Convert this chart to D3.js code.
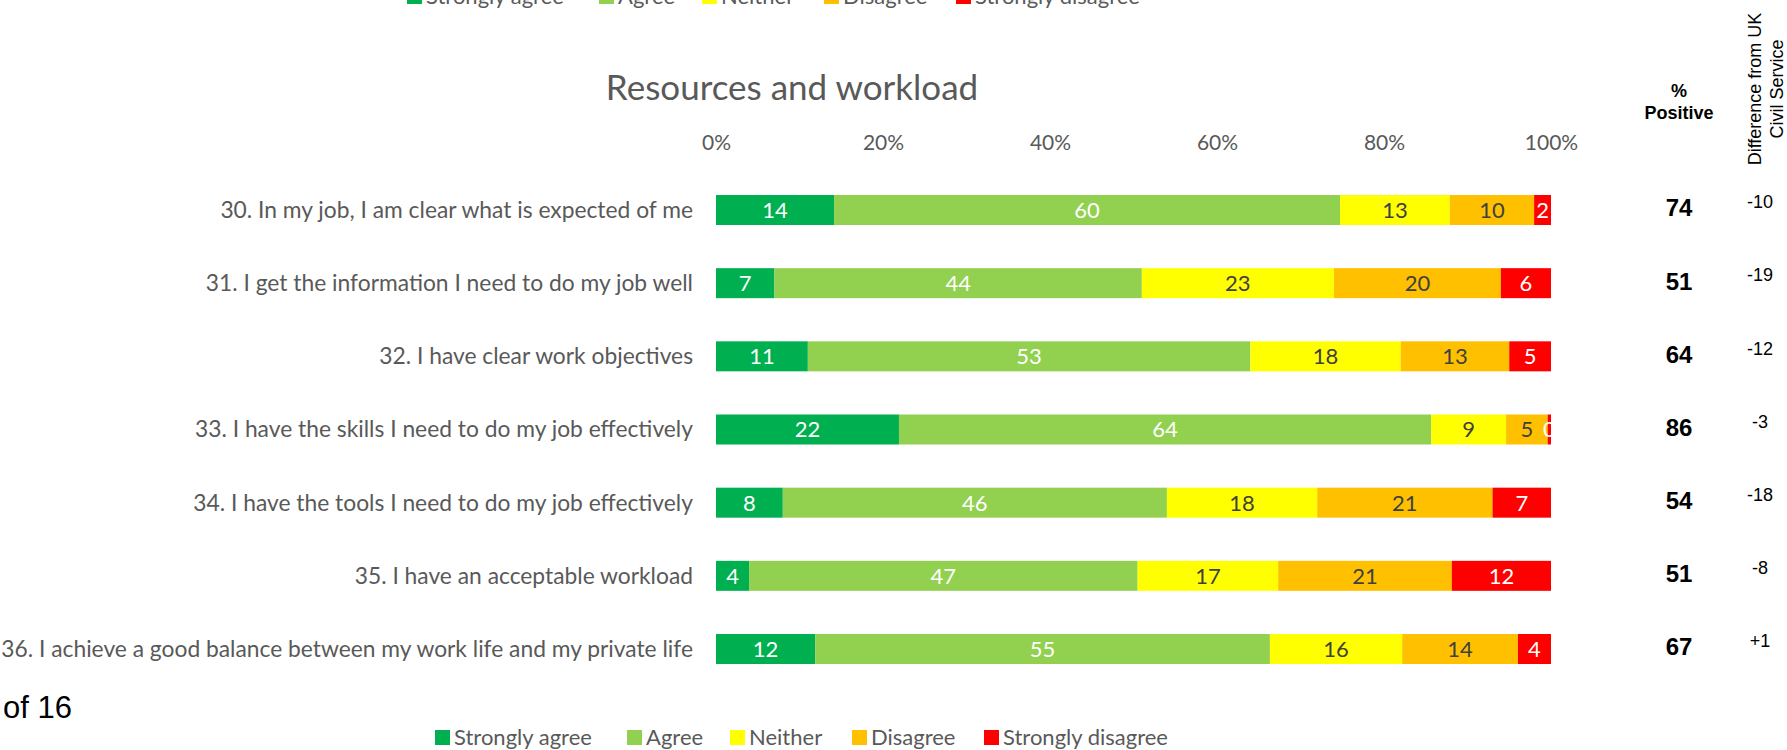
<!DOCTYPE html>
<html>
<head>
<meta charset="utf-8">
<script src="https://cdnjs.cloudflare.com/ajax/libs/d3/7.8.5/d3.min.js"></script>
<style>
	body { margin: 0; background: #fff; }
	svg { display: block; }
	.cal { font-family: Lato, "Open Sans", sans-serif; fill: #595959; }
	.ari { font-family: "Liberation Sans", Arial, sans-serif; fill: #000; }
</style>
</head>
<body>
<svg id="chart" width="1787" height="750"></svg>
<script>
'use strict';

//Chart data
var questions = [
	"30. In my job, I am clear what is expected of me",
	"31. I get the information I need to do my job well",
	"32. I have clear work objectives",
	"33. I have the skills I need to do my job effectively",
	"34. I have the tools I need to do my job effectively",
	"35. I have an acceptable workload",
	"36. I achieve a good balance between my work life and my private life"
];
var responses = ["Strongly agree", "Agree", "Neither", "Disagree", "Strongly disagree"];
var stronglyAgree    = [14, 7, 11, 22, 8, 4, 12];
var agree            = [60, 44, 53, 64, 46, 47, 55];
var neither          = [13, 23, 18, 9, 18, 17, 16];
var disagree         = [10, 20, 13, 5, 21, 21, 14];
var stronglyDisagree = [2, 6, 5, 0.4, 7, 12, 4];
var percentPositive  = [74, 51, 64, 86, 54, 51, 67];
var diffFromUK       = ["-10", "-19", "-12", "-3", "-18", "-8", "+1"];
var tickValues       = [0, 0.2, 0.4, 0.6, 0.8, 1];

var colors = ["#00B050", "#92D050", "#FFFF00", "#FFC000", "#FF0000"];
var labelColors = ["#fff", "#fff", "#404040", "#404040", "#fff"];

var svg = d3.select("#chart");

//Build rows with cumulative shares (each row is normalised to 100%)
var series = [stronglyAgree, agree, neither, disagree, stronglyDisagree];
var rows = questions.map(function(q, i) {
	var total = d3.sum(series, function(s) { return s[i]; });
	var acc = 0;
	var segs = series.map(function(s, k) {
		var seg = { key: k, value: s[i], x0: acc / total, x1: (acc + s[i]) / total };
		acc += s[i];
		return seg;
	});
	return { question: q, segs: segs, positive: percentPositive[i], diff: diffFromUK[i] };
});

//Scales
var x = d3.scaleLinear().domain([0, 1]).range([716, 1551]);
var y = d3.scalePoint().domain(questions).range([210, 649]);
var barH = 30;

//Title
svg.append("text")
	.attr("class", "cal")
	.attr("x", 792).attr("y", 100)
	.attr("text-anchor", "middle")
	.style("font-size", "35px")
	.text("Resources and workload");

//Top axis (labels only)
var axis = svg.append("g")
	.attr("transform", "translate(0,150)")
	.call(d3.axisTop(x).tickValues(tickValues).tickSize(0).tickPadding(0).tickFormat(d3.format(".0%")));
axis.select(".domain").remove();
axis.selectAll("text")
	.attr("class", "cal")
	.style("font-size", "21px")
	.attr("fill", null);

//Clip so tiny end labels do not spill past 100% (row-local coordinates)
svg.append("clipPath").attr("id", "plotClip")
	.append("rect")
	.attr("x", x(0)).attr("y", -barH)
	.attr("width", x(1) - x(0)).attr("height", barH * 2);

//Row groups
var rowGroup = svg.selectAll(".row")
	.data(rows)
	.enter().append("g")
	.attr("class", "row")
	.attr("transform", function(d) { return "translate(0," + y(d.question) + ")"; });

rowGroup.append("text")
	.attr("class", "cal")
	.attr("x", 693).attr("y", 0)
	.attr("dy", "0.35em")
	.attr("text-anchor", "end")
	.style("font-size", "22.8px")
	.text(function(d) { return d.question; });

var seg = rowGroup.selectAll(".seg")
	.data(function(d) { return d.segs; })
	.enter().append("g")
	.attr("class", "seg");

seg.append("rect")
	.attr("x", function(d) { return x(d.x0); })
	.attr("y", -barH / 2)
	.attr("width", function(d) { return x(d.x1) - x(d.x0); })
	.attr("height", barH)
	.attr("fill", function(d) { return colors[d.key]; });

seg.append("text")
	.attr("clip-path", "url(#plotClip)")
	.attr("x", function(d) { return (x(d.x0) + x(d.x1)) / 2; })
	.attr("y", 0)
	.attr("dy", "0.36em")
	.attr("text-anchor", "middle")
	.style("font-family", "Lato, 'Open Sans', sans-serif")
	.style("font-size", "22px")
	.attr("fill", function(d) { return labelColors[d.key]; })
	.text(function(d) { return d3.format(".0f")(d.value); });

//% Positive and difference columns
rowGroup.append("text")
	.attr("class", "ari")
	.attr("x", 1679).attr("y", -2)
	.attr("dy", "0.35em")
	.attr("text-anchor", "middle")
	.style("font-size", "24px")
	.style("font-weight", "bold")
	.text(function(d) { return d.positive; });

rowGroup.append("text")
	.attr("class", "ari")
	.attr("x", 1760).attr("y", -8)
	.attr("dy", "0.35em")
	.attr("text-anchor", "middle")
	.style("font-size", "18px")
	.text(function(d) { return d.diff; });

//Column headers
var posHead = svg.append("text")
	.attr("class", "ari")
	.attr("text-anchor", "middle")
	.style("font-size", "18px")
	.style("font-weight", "bold");
posHead.append("tspan").attr("x", 1679).attr("y", 97).text("%");
posHead.append("tspan").attr("x", 1679).attr("y", 119).text("Positive");

var diffHead = svg.append("text")
	.attr("class", "ari")
	.attr("transform", "translate(1761,89) rotate(-90)")
	.attr("text-anchor", "middle")
	.style("font-size", "18px");
diffHead.append("tspan").attr("x", 0).attr("y", 0).text("Difference from UK");
diffHead.append("tspan").attr("x", 0).attr("y", 22).text("Civil Service");

//Page number fragment
svg.append("text")
	.attr("class", "ari")
	.attr("x", 3).attr("y", 718)
	.style("font-size", "31px")
	.text("of 16");

//Legends (one cut off at the top, one at the bottom)
function drawLegend(offsetX, cy) {
	var legendX = [435, 627, 730, 852, 984];
	var lg = svg.append("g").attr("transform", "translate(" + offsetX + "," + cy + ")");
	var item = lg.selectAll(".item")
		.data(responses)
		.enter().append("g")
		.attr("transform", function(d, i) { return "translate(" + legendX[i] + ",0)"; });
	item.append("rect")
		.attr("x", 0).attr("y", -7)
		.attr("width", 15).attr("height", 15)
		.attr("fill", function(d, i) { return colors[i]; });
	item.append("text")
		.attr("class", "cal")
		.attr("x", 19).attr("y", 0)
		.attr("dy", "0.36em")
		.style("font-size", "22px")
		.text(function(d) { return d; });
}

drawLegend(-28, -4);
drawLegend(0, 737);
</script>
</body>
</html>
